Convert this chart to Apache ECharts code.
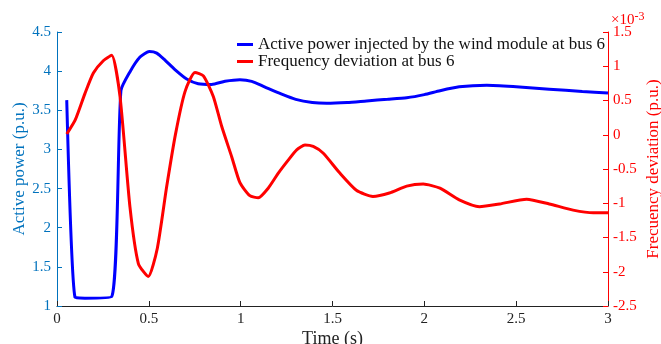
<!DOCTYPE html>
<html>
<head>
<meta charset="utf-8">
<script src="https://cdn.jsdelivr.net/npm/echarts@6/dist/echarts.min.js"></script>
<style>
  html, body { margin: 0; padding: 0; background: #fff; }
  #chart { width: 661px; height: 344px; }
</style>
</head>
<body>
<div id="chart"></div>
<script>
// time (s) and active power (p.u.)
var powerTime = [0.053, 0.098, 0.152, 0.298, 0.348, 0.397, 0.452, 0.503, 0.543, 0.588, 0.642, 0.706, 0.769, 0.842, 0.915, 0.996, 1.06, 1.13, 1.22, 1.30, 1.39, 1.468, 1.58, 1.686, 1.80, 1.904, 2.0, 2.085, 2.19, 2.34, 2.50, 2.68, 2.86, 3.0];
var powerValues = [3.63, 1.11, 1.10, 1.12, 3.75, 3.99, 4.18, 4.25, 4.23, 4.14, 4.02, 3.90, 3.84, 3.83, 3.87, 3.89, 3.87, 3.80, 3.71, 3.64, 3.60, 3.59, 3.60, 3.62, 3.64, 3.66, 3.70, 3.75, 3.80, 3.82, 3.80, 3.77, 3.74, 3.72];

// time (s) and frequency deviation (x10^-3 p.u.)
var freqTime = [0.053, 0.10, 0.152, 0.198, 0.252, 0.298, 0.343, 0.397, 0.443, 0.497, 0.546, 0.597, 0.646, 0.697, 0.751, 0.797, 0.851, 0.897, 0.951, 0.996, 1.05, 1.096, 1.15, 1.205, 1.259, 1.305, 1.35, 1.395, 1.45, 1.54, 1.63, 1.72, 1.81, 1.904, 1.994, 2.085, 2.19, 2.30, 2.41, 2.557, 2.68, 2.81, 2.92, 3.0];
var freqValues = [0.01, 0.22, 0.60, 0.90, 1.08, 1.16, 0.56, -1.05, -1.88, -2.07, -1.66, -0.76, 0.02, 0.63, 0.91, 0.86, 0.56, 0.12, -0.32, -0.70, -0.89, -0.92, -0.78, -0.56, -0.37, -0.22, -0.15, -0.17, -0.27, -0.56, -0.81, -0.90, -0.85, -0.75, -0.72, -0.78, -0.95, -1.05, -1.01, -0.94, -1.01, -1.10, -1.14, -1.14];

var seriesNames = ['Active power injected by the wind module at bus 6', 'Frequency deviation at bus 6'];

var font = 'Liberation Serif';
var leftColor = '#0072BD';

function pairs(xs, ys) {
    var out = [];
    for (var i = 0; i < xs.length; i++) out.push([xs[i], ys[i]]);
    return out;
}

var chart = echarts.init(document.getElementById('chart'));
chart.setOption({
    animation: false,
    textStyle: { fontFamily: font },
    grid: { left: 57, right: 53, top: 32, bottom: 38, outerBoundsMode: 'none' },
    legend: {
        left: 237, top: 36, orient: 'vertical', itemGap: 0, padding: 0,
        itemWidth: 16, itemHeight: 3, icon: 'rect',
        textStyle: { fontFamily: font, fontSize: 17, lineHeight: 17, color: '#111' },
        data: seriesNames
    },
    graphic: [{
        type: 'text', left: 611, top: 11,
        style: {
            text: '{a|×10}{b|-3}', fill: '#f00',
            rich: {
                a: { fontFamily: font, fontSize: 15, fill: '#f00' },
                b: { fontFamily: font, fontSize: 12, fill: '#f00', verticalAlign: 'top', padding: [0, 0, 7, 0] }
            }
        }
    }],
    xAxis: {
        type: 'value', min: 0, max: 3, interval: 0.5,
        name: 'Time (s)', nameLocation: 'middle', nameGap: 24, nameMoveOverlap: false,
        nameTextStyle: { fontFamily: font, fontSize: 18, color: '#222' },
        axisLine: { onZero: false, lineStyle: { color: '#222', width: 1 } },
        axisTick: { inside: true, length: 5, lineStyle: { color: '#222' } },
        axisLabel: { fontFamily: font, fontSize: 15, color: '#222', margin: 6 },
        splitLine: { show: false }
    },
    yAxis: [{
        type: 'value', min: 1, max: 4.5, interval: 0.5,
        name: 'Active power (p.u.)', nameLocation: 'middle', nameGap: 29, nameRotate: 90, nameMoveOverlap: false,
        nameTextStyle: { fontFamily: font, fontSize: 17, color: leftColor },
        axisLine: { show: true, onZero: false, lineStyle: { color: leftColor, width: 1 } },
        axisTick: { show: true, inside: true, length: 5, lineStyle: { color: leftColor } },
        axisLabel: { fontFamily: font, fontSize: 15, color: leftColor, margin: 6 },
        splitLine: { show: false }
    }, {
        type: 'value', min: -2.5, max: 1.5, interval: 0.5, position: 'right',
        name: 'Frecuency deviation (p.u.)', nameLocation: 'middle', nameGap: 37, nameRotate: 90, nameMoveOverlap: false,
        nameTextStyle: { fontFamily: font, fontSize: 17, color: '#f00' },
        axisLine: { show: true, onZero: false, lineStyle: { color: '#f00', width: 1 } },
        axisTick: { show: true, inside: true, length: 5, lineStyle: { color: '#f00' } },
        axisLabel: { fontFamily: font, fontSize: 15, color: '#f00', margin: 5 },
        splitLine: { show: false }
    }],
    series: [{
        name: seriesNames[0], type: 'line', yAxisIndex: 0, showSymbol: false, smooth: 0.2,
        lineStyle: { color: '#0000ff', width: 3 }, itemStyle: { color: '#0000ff' },
        data: pairs(powerTime, powerValues)
    }, {
        name: seriesNames[1], type: 'line', yAxisIndex: 1, showSymbol: false, smooth: 0.2,
        lineStyle: { color: '#ff0000', width: 3 }, itemStyle: { color: '#ff0000' },
        data: pairs(freqTime, freqValues)
    }]
});
</script>
</body>
</html>
